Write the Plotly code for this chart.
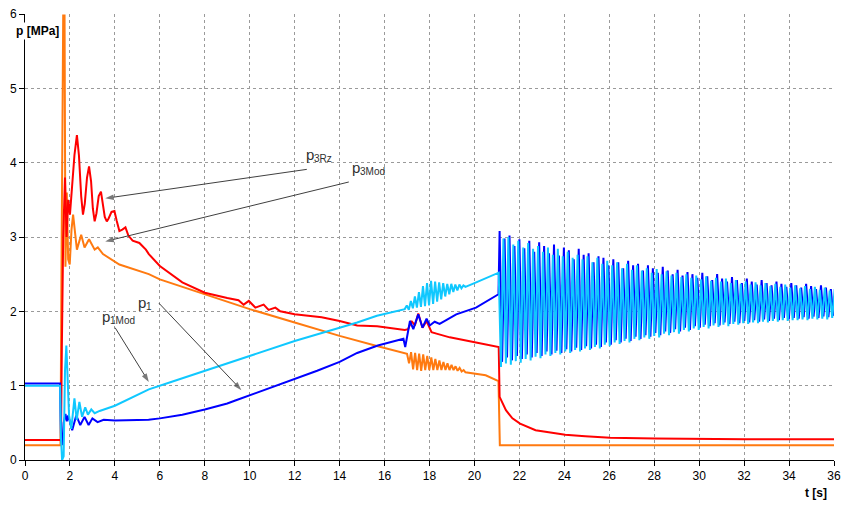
import plotly.graph_objects as go

# ---------------- data (t [s], p [MPa]) ----------------
X_TICKS = list(range(0, 37, 2))
Y_TICKS = [0, 1, 2, 3, 4, 5, 6]

# p3Rz (red)
P3RZ_T = [0, 1.60, 1.64, 1.70, 1.78, 1.85, 1.92, 2.00, 2.10, 2.20, 2.31, 2.40, 2.50, 2.58, 2.66,
          2.76, 2.85, 2.94, 3.02, 3.10, 3.18, 3.28, 3.38, 3.46, 3.55, 3.64, 3.72, 3.85, 3.98,
          4.08, 4.20, 4.33, 4.47, 4.60, 4.79, 5.09, 5.38, 5.51, 6.0, 7.0, 8.0, 9.0, 9.5, 9.73,
          9.96, 10.25, 10.62, 10.84, 11.14, 11.36, 12.0, 13.2, 14.0, 14.78, 15.67, 16.9, 17.05,
          17.2, 17.35, 17.5, 17.69, 17.87, 18.09, 18.31, 18.9, 20.07, 21.03, 21.08, 21.12,
          21.25, 21.4, 21.69, 22.03, 22.72, 23.46, 24.04, 24.93, 26.04, 28.04, 30.05, 32.06,
          36.0]
P3RZ_V = [0.27, 0.27, 1.5, 3.0, 3.8, 3.0, 3.5, 3.3, 3.7, 4.1, 4.37, 4.1, 3.55, 3.30, 3.45,
          3.80, 3.95, 3.75, 3.38, 3.21, 3.32, 3.55, 3.61, 3.45, 3.27, 3.21, 3.25, 3.34, 3.35,
          3.22, 3.08, 3.10, 3.13, 3.02, 2.95, 2.92, 2.83, 2.77, 2.61, 2.39, 2.25, 2.18, 2.15,
          2.09, 2.14, 2.05, 2.09, 2.02, 2.05, 2.00, 1.96, 1.92, 1.87, 1.81, 1.80, 1.75, 1.76,
          1.87, 1.81, 1.97, 1.78, 1.87, 1.72, 1.70, 1.65, 1.58, 1.53, 1.52, 0.85,
          0.76, 0.67, 0.56, 0.49, 0.40, 0.37, 0.34, 0.32, 0.30, 0.29, 0.28, 0.28,
          0.28]

# p3Mod (orange)
P3MOD_T = [0, 1.58, 1.62, 1.66, 1.70, 1.76, 1.80, 1.86, 1.92, 1.99, 2.07, 2.14, 2.31, 2.50,
           2.65, 2.85, 3.10, 3.24, 3.47, 4.20, 5.51, 6.0, 8.0, 10.0, 12.0, 14.0, 15.7,
           17.00, 17.09, 17.18, 17.27, 17.36, 17.45, 17.54, 17.63, 17.72, 17.81, 17.90, 17.99,
           18.08, 18.17, 18.26, 18.35, 18.44, 18.53, 18.62, 18.71, 18.80, 18.89, 18.98, 19.07,
           19.16, 19.25, 19.34, 19.43, 19.52, 19.6, 20.5, 21.07, 21.13, 36.0]
P3MOD_V = [0.2, 0.2, 2.4, 4.4, 5.98, 5.98, 2.6, 3.6, 2.7, 2.63, 3.1, 3.3, 2.83, 3.03,
           2.86, 2.97, 2.83, 2.86, 2.77, 2.63, 2.50, 2.43, 2.23, 2.03, 1.85, 1.67, 1.53,
           1.43, 1.30, 1.45, 1.22, 1.44, 1.21, 1.43, 1.20, 1.42, 1.21, 1.40, 1.21,
           1.38, 1.21, 1.36, 1.21, 1.34, 1.21, 1.32, 1.21, 1.30, 1.21, 1.28, 1.21,
           1.26, 1.20, 1.24, 1.19, 1.21, 1.18, 1.14, 1.06, 0.2, 0.2]

# p1 (blue) - before the big oscillation
P1_T = [0, 1.56, 1.60, 1.66, 1.72, 1.80, 1.86, 1.92, 2.10, 2.28, 2.46, 2.65, 2.83, 3.00,
        3.23, 3.50, 4.0, 5.0, 5.5, 6.0, 7.0, 8.0, 9.0, 9.36, 10.0, 11.0, 12.0, 13.0, 14.0,
        14.78, 15.7, 16.84, 16.92, 17.13, 17.28, 17.5, 17.69, 17.87, 18.01, 18.23, 18.45,
        19.19, 20.07, 20.95, 21.07]
P1_V = [1.03, 1.03, 0.3, 0.2, 0.5, 0.62, 0.52, 0.60, 0.40, 0.60, 0.47, 0.58, 0.47, 0.56,
        0.51, 0.54, 0.53, 0.53, 0.54, 0.56, 0.61, 0.68, 0.76, 0.80, 0.87, 0.98, 1.09, 1.20, 1.32,
        1.44, 1.54, 1.63, 1.52, 1.87, 1.76, 1.96, 1.78, 1.90, 1.81, 1.86, 1.83,
        1.96, 2.05, 2.21, 2.23]
# p1 big oscillation: peak / trough values per cycle
P1_OSC_START = 21.12
P1_OSC_PERIOD = 0.22
P1_PEAKS = [3.08, 2.98, 3.02, 2.88, 2.97, 2.85, 2.95, 2.80, 2.93, 2.88,
            2.78, 2.90, 2.75, 2.86, 2.82, 2.70, 2.84, 2.76, 2.78, 2.66,
            2.74, 2.72, 2.62, 2.70, 2.66, 2.58, 2.68, 2.62, 2.64, 2.55,
            2.62, 2.58, 2.52, 2.60, 2.55, 2.50, 2.56, 2.48, 2.53, 2.50,
            2.45, 2.52, 2.47, 2.42, 2.50, 2.44, 2.40, 2.46, 2.42, 2.38,
            2.44, 2.40, 2.36, 2.42, 2.38, 2.35, 2.40, 2.37, 2.33, 2.38,
            2.35, 2.32, 2.37, 2.34, 2.30, 2.35, 2.32, 2.30]
P1_TROUGHS = [1.32, 1.38, 1.34, 1.40, 1.36, 1.42, 1.38, 1.44, 1.40, 1.46,
              1.42, 1.47, 1.44, 1.49, 1.46, 1.51, 1.48, 1.53, 1.50, 1.55,
              1.52, 1.58, 1.55, 1.61, 1.58, 1.63, 1.60, 1.66, 1.63, 1.68,
              1.66, 1.71, 1.68, 1.73, 1.71, 1.76, 1.73, 1.78, 1.75, 1.80,
              1.78, 1.82, 1.80, 1.84, 1.81, 1.85, 1.83, 1.86, 1.84, 1.87,
              1.85, 1.88, 1.86, 1.89, 1.87, 1.90, 1.88, 1.91, 1.89, 1.91,
              1.90, 1.92, 1.90, 1.93, 1.91, 1.93, 1.92, 1.94]

# p1Mod (cyan) - before the big oscillation
P1MOD_T = [0, 1.56, 1.60, 1.65, 1.72, 1.78, 1.84, 1.90, 1.96, 2.06, 2.20, 2.30, 2.42, 2.54,
           2.68, 2.80, 2.95, 3.10, 3.32, 4.0, 4.7, 5.51, 6.5, 8.0, 10.0, 12.0, 14.0, 14.78,
           15.66, 16.84, 16.90, 16.99, 17.08, 17.17, 17.26, 17.35, 17.44, 17.53, 17.62, 17.71,
           17.80, 17.89, 17.98, 18.07, 18.16, 18.25, 18.34, 18.43, 18.52, 18.61, 18.70, 18.79,
           18.88, 18.97, 19.06, 19.15, 19.24, 19.33, 19.42, 19.51, 19.6, 20.0, 20.95, 21.08]
P1MOD_V = [1.0, 1.0, 0.3, 0.0, 0.05, 1.2, 1.54, 0.9, 0.6, 0.42, 0.83, 0.54, 0.78, 0.58,
           0.71, 0.61, 0.68, 0.63, 0.66, 0.73, 0.83, 0.95, 1.05, 1.20, 1.41, 1.60, 1.78, 1.85,
           1.94, 2.03, 2.03, 2.08, 2.02, 2.14, 2.04, 2.20, 2.05, 2.26, 2.06, 2.34,
           2.07, 2.38, 2.08, 2.41, 2.10, 2.40, 2.13, 2.39, 2.16, 2.38, 2.20, 2.37,
           2.23, 2.37, 2.26, 2.36, 2.28, 2.36, 2.31, 2.35, 2.33, 2.38, 2.50, 2.52]
P1MOD_OSC_START = 21.18
P1MOD_OSC_PERIOD = 0.22
P1MOD_TROUGHS = [1.25, 1.30, 1.28, 1.33, 1.31, 1.36, 1.34, 1.39, 1.37, 1.42,
                 1.40, 1.44, 1.42, 1.46, 1.44, 1.48, 1.46, 1.50, 1.48, 1.52,
                 1.50, 1.55, 1.53, 1.58, 1.56, 1.60, 1.58, 1.63, 1.61, 1.65,
                 1.63, 1.67, 1.65, 1.70, 1.68, 1.72, 1.70, 1.75, 1.73, 1.77,
                 1.75, 1.79, 1.77, 1.81, 1.79, 1.82, 1.80, 1.83, 1.82, 1.84,
                 1.83, 1.85, 1.84, 1.86, 1.85, 1.87, 1.86, 1.88, 1.87, 1.88,
                 1.88, 1.89, 1.88, 1.90, 1.89, 1.90, 1.89, 1.91]
P1MOD_PEAKS = [2.98, 3.00, 2.90, 2.95, 2.86, 2.92, 2.84, 2.88, 2.80, 2.86,
               2.76, 2.84, 2.74, 2.80, 2.72, 2.76, 2.70, 2.74, 2.66, 2.72,
               2.64, 2.68, 2.62, 2.66, 2.58, 2.64, 2.56, 2.62, 2.55, 2.58,
               2.52, 2.57, 2.50, 2.54, 2.48, 2.52, 2.46, 2.50, 2.45, 2.48,
               2.43, 2.47, 2.41, 2.45, 2.40, 2.44, 2.38, 2.42, 2.37, 2.40,
               2.36, 2.39, 2.35, 2.38, 2.34, 2.37, 2.33, 2.36, 2.32, 2.35,
               2.31, 2.34, 2.30, 2.33, 2.29, 2.32, 2.28, 2.30]

# labels and pointer arrows, in data units:
# (symbol, subscript, label left t, label p, arrow tail t, tail p, arrow tip t, tip p)
LABELS = [
    ("p", "3Rz", 12.43, 4.11, 12.54, 3.91, 3.57, 3.52),
    ("p", "3Mod", 14.46, 3.94, 14.41, 3.74, 3.57, 2.94),
    ("p", "1", 4.93, 2.12, 5.96, 2.11, 9.63, 0.94),
    ("p", "1Mod", 3.34, 1.93, 4.01, 1.78, 5.51, 1.05),
]


def build_osc(t_base, v_base, start, period, first, second):
    t = list(t_base)
    v = list(v_base)
    for k in range(len(first)):
        t.append(start + k * period)
        v.append(first[k])
        t.append(start + k * period + period / 2)
        v.append(second[k])
    return t, v


p1_t, p1_v = build_osc(P1_T, P1_V, P1_OSC_START, P1_OSC_PERIOD, P1_PEAKS, P1_TROUGHS)
p1m_t, p1m_v = build_osc(P1MOD_T, P1MOD_V, P1MOD_OSC_START, P1MOD_OSC_PERIOD,
                         P1MOD_TROUGHS, P1MOD_PEAKS)

fig = go.Figure()
LW = 2
fig.add_trace(go.Scatter(x=P3MOD_T, y=P3MOD_V, mode="lines", line=dict(color="#ff7a10", width=LW)))
fig.add_trace(go.Scatter(x=P3RZ_T, y=P3RZ_V, mode="lines", line=dict(color="#ff0000", width=LW)))
fig.add_trace(go.Scatter(x=p1_t, y=p1_v, mode="lines", line=dict(color="#0000ff", width=LW)))
fig.add_trace(go.Scatter(x=p1m_t, y=p1m_v, mode="lines", line=dict(color="#10c8ff", width=LW)))

LABEL_FONT = "Liberation Sans, Arial, sans-serif"
annotations = []
for sym, sub, lt, lp, tt, tp, ht, hp in LABELS:
    # pointer arrow: shaft + arrowhead marker oriented along the segment
    fig.add_trace(go.Scatter(
        x=[tt, ht], y=[tp, hp], mode="lines+markers",
        line=dict(color="#404040", width=1),
        marker=dict(symbol="arrow", size=[0, 9], angleref="previous", color="#404040",
                    line=dict(width=0)),
        hoverinfo="skip"))
    annotations.append(dict(x=lt, y=lp, xref="x", yref="y", text=sym, showarrow=False,
                            xanchor="left", yanchor="middle",
                            font=dict(family=LABEL_FONT, size=15, color="#303030")))
    annotations.append(dict(x=lt, y=lp, xref="x", yref="y", text=sub, showarrow=False,
                            xanchor="left", yanchor="middle", xshift=8, yshift=-4,
                            font=dict(family=LABEL_FONT, size=10, color="#303030")))

annotations.append(dict(x=-0.013, y=0.962, xref="paper", yref="paper", xanchor="left",
                        yanchor="middle", text="<b>p [MPa]</b>", showarrow=False,
                        bgcolor="white",
                        font=dict(family=LABEL_FONT, size=12, color="black")))
annotations.append(dict(x=0.994, y=-0.074, xref="paper", yref="paper", xanchor="right",
                        yanchor="middle", text="<b>t [s]</b>", showarrow=False,
                        font=dict(family=LABEL_FONT, size=12, color="black")))

tickfont = dict(family="Liberation Sans Narrow, Arial Narrow, Liberation Sans, Arial", size=12,
                color="black")
axis_common = dict(showline=True, linecolor="black", linewidth=1, ticks="outside", ticklen=5,
                   tickcolor="black", showgrid=True, gridcolor="#9a9a9a", gridwidth=1,
                   griddash="3px,3px", zeroline=False, tickfont=tickfont, mirror=False)

fig.update_layout(
    width=848, height=506,
    margin=dict(l=25, r=7, t=12, b=46),
    paper_bgcolor="white", plot_bgcolor="white",
    showlegend=False,
    xaxis=dict(range=[0, 36], tickmode="array", tickvals=X_TICKS,
               ticktext=[str(v) for v in X_TICKS], **axis_common),
    yaxis=dict(range=[0, 6], tickmode="array", tickvals=Y_TICKS,
               ticktext=[str(v) for v in Y_TICKS], **axis_common),
    annotations=annotations,
)

fig.write_html("out.html")
